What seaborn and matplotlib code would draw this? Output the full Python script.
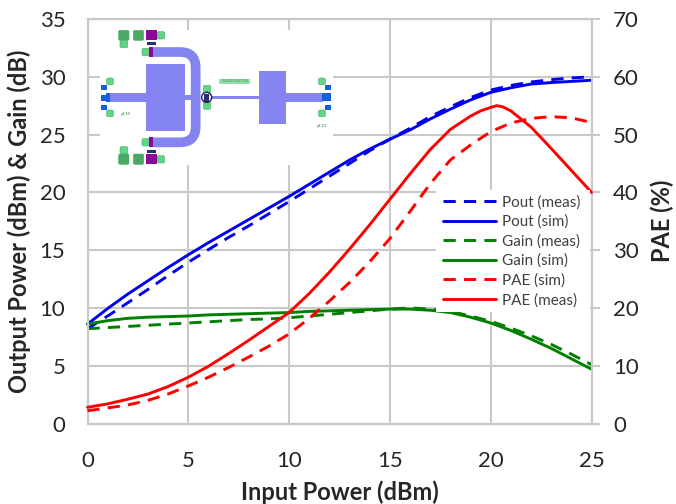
import matplotlib
matplotlib.use("Agg")
import matplotlib.pyplot as plt
import seaborn as sns
import pandas as pd
from matplotlib.patches import Rectangle, PathPatch, FancyBboxPatch, Circle
from matplotlib.path import Path

sns.set_theme(style="white")
plt.rcParams['font.family'] = ['Lato', 'DejaVu Sans']

pin = [0, 1, 2, 3, 4, 5, 6, 7, 8, 9, 10, 11, 12, 13, 14, 15, 16, 17, 18, 19, 20, 21, 22, 23, 24, 25]
pout_meas = [8.2, 9.3, 10.45, 11.6, 12.8, 13.95, 15.05, 16.1, 17.1, 18.15, 19.2, 20.3, 21.4, 22.5, 23.6, 24.6, 25.55, 26.55, 27.4, 28.2, 28.85, 29.25, 29.55, 29.75, 29.9, 30.0]
pout_sim = [8.6, 9.95, 11.2, 12.35, 13.5, 14.6, 15.65, 16.65, 17.65, 18.65, 19.65, 20.7, 21.75, 22.8, 23.75, 24.6, 25.4, 26.35, 27.2, 28.0, 28.65, 29.05, 29.37, 29.5, 29.6, 29.7]
gain_meas = [8.2, 8.3, 8.4, 8.5, 8.6, 8.7, 8.8, 8.9, 9.0, 9.05, 9.15, 9.3, 9.45, 9.6, 9.75, 9.9, 10.0, 9.9, 9.7, 9.3, 8.85, 8.25, 7.6, 6.85, 6.0, 5.1]
gain_sim = [8.6, 8.9, 9.1, 9.2, 9.25, 9.3, 9.4, 9.45, 9.5, 9.55, 9.6, 9.7, 9.75, 9.8, 9.85, 9.9, 9.9, 9.8, 9.6, 9.2, 8.7, 8.05, 7.3, 6.5, 5.6, 4.7]
pae_sim = [2.2, 2.7, 3.2, 4.0, 5.1, 6.5, 8.0, 9.7, 11.5, 13.4, 15.5, 18.2, 21.2, 24.4, 28.0, 32.0, 36.7, 41.5, 45.6, 48.2, 50.5, 52.0, 52.8, 53.1, 52.9, 52.1]
pae_meas_x = [0, 1, 2, 3, 4, 5, 6, 7, 8, 9, 10, 11, 12, 13, 14, 15, 16, 17, 18, 19, 19.5, 20, 20.3, 20.6, 21, 22, 23, 24, 25]
pae_meas = [2.8, 3.4, 4.2, 5.1, 6.4, 8.0, 9.9, 12.1, 14.4, 16.8, 19.2, 22.5, 26.2, 30.2, 34.4, 38.8, 43.2, 47.4, 50.9, 53.2, 54.1, 54.7, 55.0, 54.8, 54.1, 51.3, 47.6, 43.8, 40.0]

left_ticks = [0, 5, 10, 15, 20, 25, 30, 35]
right_ticks = [0, 10, 20, 30, 40, 50, 60, 70]
x_ticks = [0, 5, 10, 15, 20, 25]

BLUE, GREEN, RED = "#0000ee", "#008000", "#ff0000"
GRID = "#c9c9c9"
TXT = "#262626"

fig = plt.figure(figsize=(6.76, 5.04), dpi=100)
L, R, T, B = 87.5, 591.5, 19.0, 423.5
ax = fig.add_axes([L/676, 1-B/504, (R-L)/676, (B-T)/504])
ax2 = ax.twinx()

DASH = (4.2, 2.8)
series = [(ax, pin, pout_meas, "Pout (meas)", BLUE, True), (ax, pin, pout_sim, "Pout (sim)", BLUE, False),
          (ax, pin, gain_meas, "Gain (meas)", GREEN, True), (ax, pin, gain_sim, "Gain (sim)", GREEN, False),
          (ax2, pin, pae_sim, "PAE (sim)", RED, True), (ax2, pae_meas_x, pae_meas, "PAE (meas)", RED, False)]
handles = []
for a, xs, ys, name, col, dashed in series:
    df = pd.DataFrame({"x": xs, "y": ys})
    sns.lineplot(data=df, x="x", y="y", ax=a, color=col, lw=2.1, legend=False,
                 errorbar=None, estimator=None, zorder=5)
    line = a.get_lines()[-1]
    if dashed:
        line.set_linestyle((0, DASH))
    line.set_label(name)
    line.set_clip_on(False)
    handles.append(line)

ax.set_xlim(0, 25)
ax.set_ylim(0, 35)
ax2.set_ylim(0, 70)
ax.set_xticks(x_ticks)
ax.set_yticks(left_ticks)
ax2.set_yticks(right_ticks)
ax.grid(True, color=GRID, lw=1.5)
ax.set_axisbelow(True)
ax2.grid(False)
for a in (ax, ax2):
    for s in a.spines.values():
        s.set_color(GRID)
        s.set_linewidth(1.5)
    a.tick_params(length=0, labelsize=16, labelcolor=TXT)
ax.tick_params(axis="x", pad=19.5)
ax.tick_params(axis="y", pad=16)
ax2.tick_params(axis="y", length=6, width=1.5, color=GRID, pad=9.5)

LABEL = dict(fontsize=17, fontweight="bold", color=TXT)
ax.set_xlabel("Input Power (dBm)", va="center", **LABEL)
ax.set_ylabel("Output Power (dBm) & Gain (dB)", va="center", **LABEL)
ax2.set_ylabel("PAE (%)", va="center", rotation=90, **LABEL)
ax.xaxis.set_label_coords(0.5 + (340 - (L + R) / 2) / (R - L), (B - 492) / (B - T))
ax.yaxis.set_label_coords((19 - L) / (R - L), 0.5)
ax2.yaxis.set_label_coords((662 - L) / (R - L), 0.5)

ax2.set_zorder(ax.get_zorder() + 1)
ax2.patch.set_visible(False)

# overlay in reference-pixel space for the legend backing and the layout inset
ov = fig.add_axes([0, 0, 1, 1], zorder=10)
ov.set_xlim(0, 676)
ov.set_ylim(504, 0)
ov.axis("off")
ov.patch.set_visible(False)
ov.add_patch(Rectangle((436, 190), 154, 122, fc="white", ec="none", zorder=1))
ov.add_patch(Rectangle((100, 30), 233, 135, fc="white", ec="none", zorder=1))

leg = ov.legend(handles=handles, loc="upper left", bbox_to_anchor=(443/676, 1-195/504),
                bbox_transform=fig.transFigure, frameon=False, fontsize=11,
                labelspacing=0.345, handlelength=3.45, handletextpad=0.42,
                borderpad=0, borderaxespad=0, labelcolor="#404040")
leg.set_zorder(3)


def zx(v):
    return 80 + v / 3


def zy(v):
    return 10 + v / 3


def zrect(x0, y0, x1, y1, col, z=2, rounded=False):
    if rounded:
        ov.add_patch(FancyBboxPatch((zx(x0) + 1, zy(y0) + 1), (x1 - x0) / 3 - 2, (y1 - y0) / 3 - 2,
                                    boxstyle="round,pad=1,rounding_size=1.5", fc=col, ec="#3fae60",
                                    lw=0.4, zorder=z))
    else:
        ov.add_patch(Rectangle((zx(x0), zy(y0)), (x1 - x0) / 3, (y1 - y0) / 3, fc=col, ec="none", zorder=z))


PERI = "#8585f2"
LG = "#62d488"
DG = "#4aa963"
PUR = "#8a0a96"
BL = "#1560e0"
NAVY = "#2a2a78"

for r in [(198, 162, 316, 362), (536, 183, 617, 341), (85, 248, 198, 276), (617, 248, 730, 276),
          (395, 258, 536, 266), (316, 255, 347, 269)]:
    zrect(*r, PERI)

u_verts = [(zx(215), zy(126)), (zx(300), zy(126)), (zx(347), zy(126)), (zx(347), zy(173)),
           (zx(347), zy(350)), (zx(347), zy(397)), (zx(300), zy(397)), (zx(215), zy(397))]
u_codes = [Path.MOVETO, Path.LINETO, Path.CURVE3, Path.CURVE3, Path.LINETO, Path.CURVE3, Path.CURVE3, Path.LINETO]
ov.add_patch(PathPatch(Path(u_verts, u_codes), fc="none", ec=PERI, lw=7.0, capstyle="butt", zorder=2))

for r in [(116, 61, 147, 91), (160, 61, 191, 91), (116, 432, 147, 463), (160, 432, 191, 463)]:
    zrect(*r, DG, rounded=True)
for r in [(120, 91, 143, 113), (232, 65, 254, 87), (186, 115, 208, 137), (186, 386, 208, 408),
          (120, 410, 143, 432), (232, 437, 254, 459), (370, 226, 392, 248), (370, 276, 392, 298),
          (80, 204, 100, 224), (80, 300, 100, 320), (716, 204, 736, 224), (716, 300, 736, 320)]:
    zrect(*r, LG, rounded=True)
for r in [(198, 61, 232, 91), (198, 432, 232, 463), (208, 112, 220, 142), (208, 382, 220, 412)]:
    zrect(*r, PUR, z=3)
for r in [(200, 96, 228, 104), (200, 420, 228, 428), (372, 252, 388, 276)]:
    zrect(*r, NAVY, z=3)
for r in [(62, 226, 80, 240), (62, 254, 80, 272), (62, 284, 80, 300), (736, 226, 752, 240),
          (726, 250, 752, 274), (736, 284, 752, 300), (78, 248, 90, 276)]:
    zrect(*r, BL, z=3)
ov.add_patch(Circle((zx(380), zy(262)), 5, fc="none", ec="#222244", lw=1.0, zorder=4))
zrect(418, 206, 510, 222, "#8fe0a8")
ov.text(zx(464), zy(214), "0.020 0.0710", fontsize=3.2, color="#2c8a4c", ha="center", va="center", zorder=4)
ov.text(zx(137), zy(311), "p110", fontsize=3.2, color="#2c8a4c", ha="center", va="center", zorder=4)
ov.text(zx(724), zy(347), "p110", fontsize=3.2, color="#2c8a4c", ha="center", va="center", zorder=4)

fig.savefig("out.png", dpi=100, facecolor="white")
